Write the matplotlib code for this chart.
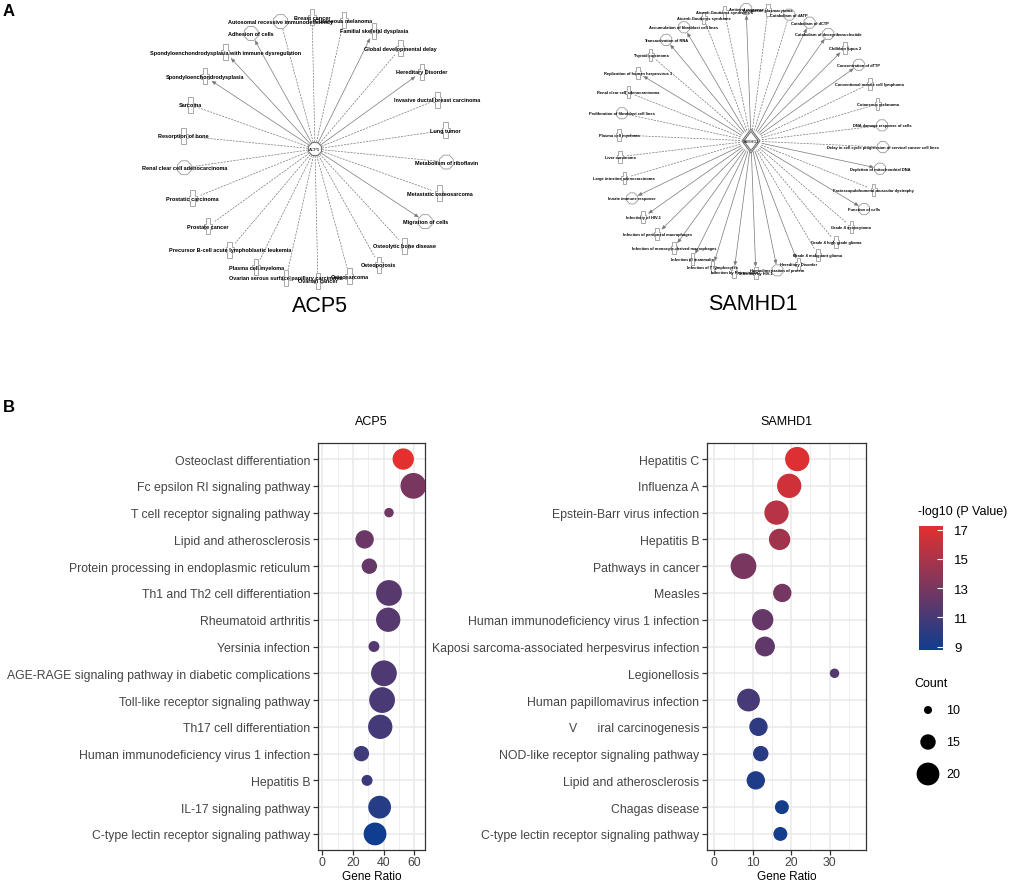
import numpy as np
import matplotlib
matplotlib.use("Agg")
import matplotlib.pyplot as plt
from matplotlib.colors import LinearSegmentedColormap, Normalize
from matplotlib.cm import ScalarMappable
from matplotlib.patches import Polygon, RegularPolygon

plt.rcParams['font.family'] = ['Liberation Sans', 'DejaVu Sans']

# ---------------- panel A: IPA networks ----------------
acp5_nodes = ["Adhesion of cells", "Autosomal recessive immunodeficiency", "Breast cancer",
              "Cutaneous melanoma", "Familial skeletal dysplasia", "Global developmental delay",
              "Hereditary Disorder", "Invasive ductal breast carcinoma", "Lung tumor",
              "Metabolism of riboflavin", "Metastatic osteosarcoma", "Migration of cells",
              "Osteolytic bone disease", "Osteoporosis", "Osteosarcoma", "Ovarian cancer",
              "Ovarian serous surface papillary carcinoma", "Plasma cell myeloma",
              "Precursor B-cell acute lymphoblastic leukemia", "Prostate cancer",
              "Prostatic carcinoma", "Renal clear cell adenocarcinoma", "Resorption of bone",
              "Sarcoma", "Spondyloenchondrodysplasia",
              "Spondyloenchondrodysplasia with immune dysregulation"]
acp5_kinds = "ffdddddddfdfdddddddddfdddd"
acp5_arrows = [1, 0, 0, 0, 1, 0, 1, 0, 0, 0, 0, 1, 0, 0, 0, 0, 0, 0, 0, 0, 0, 0, 0, 0, 1, 1]

samhd1_nodes = ["Accumulation of fibroblast cell lines", "Aicardi-Goutieres syndrome",
                "Aicardi-Goutieres syndrome 1", "Antiviral response", "Anaplastic plasmacytoma",
                "Catabolism of dATP", "Catabolism of dCTP", "Catabolism of deoxyribonucleotide",
                "Chilblain lupus 2", "Concentration of dTTP", "Conventional mantle cell lymphoma",
                "Cutaneous melanoma", "DNA damage response of cells",
                "Delay in cell cycle progression of cervical cancer cell lines",
                "Depletion of mitochondrial DNA", "Facioscapulohumeral muscular dystrophy",
                "Function of cells", "Grade 4 astrocytoma", "Grade 4 high grade glioma",
                "Grade 4 malignant glioma", "Hereditary Disorder", "Homodimerization of protein",
                "Infection by HIV-1", "Infection by Retroviridae", "Infection of T lymphocytes",
                "Infection of mammalia", "Infection of monocyte-derived macrophages",
                "Infection of peritoneal macrophages", "Infectivity of HIV-1",
                "Innate immune response", "Large intestine adenocarcinoma", "Liver carcinoma",
                "Plasma cell myeloma", "Proliferation of fibroblast cell lines",
                "Renal clear cell adenocarcinoma", "Replication of human herpesvirus 1",
                "Thyroid carcinoma", "Transactivation of RNA"]
samhd1_kinds = "fddfdfffdfddfffdfddddfdddddddfdddfdddf"
samhd1_arrows = [1, 0, 0, 1, 0, 0, 1, 1, 1, 1, 0, 0, 0, 0, 1, 0, 1, 0, 0, 0, 1, 1,
                 1, 1, 1, 1, 1, 1, 1, 1, 0, 0, 0, 0, 0, 1, 0, 1]

# ---------------- panel B: KEGG dot plots ----------------
acp5_terms = ["Osteoclast differentiation", "Fc epsilon RI signaling pathway",
              "T cell receptor signaling pathway", "Lipid and atherosclerosis",
              "Protein processing in endoplasmic reticulum", "Th1 and Th2 cell differentiation",
              "Rheumatoid arthritis", "Yersinia infection",
              "AGE-RAGE signaling pathway in diabetic complications",
              "Toll-like receptor signaling pathway", "Th17 cell differentiation",
              "Human immunodeficiency virus 1 infection", "Hepatitis B",
              "IL-17 signaling pathway", "C-type lectin receptor signaling pathway"]
acp5_ratio = [52.8, 59.4, 43.5, 27.6, 30.7, 43.5, 43.0, 33.7, 40.2, 39.0, 37.8, 25.5, 29.2, 37.4, 34.4]
acp5_count = [19, 22, 11, 17, 15, 22, 21, 12, 22, 22, 21, 15, 12, 20, 20]
acp5_logp = [17.25, 13.0, 12.6, 12.4, 12.2, 11.7, 11.6, 11.5, 11.3, 11.1, 10.9, 10.7, 10.5, 9.7, 8.77]

samhd1_terms = ["Hepatitis C", "Influenza A", "Epstein-Barr virus infection", "Hepatitis B",
                "Pathways in cancer", "Measles", "Human immunodeficiency virus 1 infection",
                "Kaposi sarcoma-associated herpesvirus infection", "Legionellosis",
                "Human papillomavirus infection", "V      iral carcinogenesis",
                "NOD-like receptor signaling pathway", "Lipid and atherosclerosis",
                "Chagas disease", "C-type lectin receptor signaling pathway"]
samhd1_ratio = [21.6, 19.5, 16.2, 17.0, 7.6, 17.7, 12.6, 13.2, 31.3, 8.9, 11.5, 12.1, 10.8, 17.6, 17.2]
samhd1_count = [21, 21, 21, 19, 22, 17, 19, 18, 11, 20, 17, 15, 17, 14, 14]
samhd1_logp = [17.0, 16.4, 15.5, 14.6, 13.0, 12.8, 12.2, 12.0, 11.5, 11.0, 10.0, 9.8, 9.4, 9.1, 9.0]

legend_counts = [10, 15, 20]
cbar_ticks = [9, 11, 13, 15, 17]

W, H = 1027, 887
fig = plt.figure(figsize=(W / 100, H / 100), dpi=100)


def frac(x0, y0, x1, y1):
    # pixel box (top-left origin) -> figure fraction rect
    return [x0 / W, 1 - y1 / H, (x1 - x0) / W, (y1 - y0) / H]


def dot_size(c):
    r_px = 3.3 + (np.asarray(c, dtype=float) - 10) * 0.74
    return (2 * r_px * 72 / 100) ** 2


cmap = LinearSegmentedColormap.from_list("pv", ["#0f3d8f", "#e3302f"])
norm = Normalize(vmin=min(acp5_logp + samhd1_logp), vmax=max(acp5_logp + samhd1_logp))

# whole-figure canvas in pixel coordinates for the networks and the size legend
canvas = fig.add_axes([0, 0, 1, 1])
canvas.set_xlim(0, W)
canvas.set_ylim(H, 0)
canvas.axis("off")

edge_col = "#777777"
node_col = "#9a9a9a"


def draw_network(ax, cx, cy, rad, nodes, kinds, arrows, top_i, hub, fs, cw, ch, ct, cr, weight):
    n = len(nodes)
    for i, (name, kind, arr) in enumerate(zip(nodes, kinds, arrows)):
        a = np.deg2rad(90 - (i - top_i) * 360 / n)
        ux, uy = np.cos(a), -np.sin(a)
        x, y = cx + rad * ux, cy + rad * uy
        stop = rad - (cr if kind == "f" else ch / 2) - 0.5
        x0, y0 = cx + hub * ux, cy + hub * uy
        x1, y1 = cx + stop * ux, cy + stop * uy
        if arr:
            ax.plot([x0, x1 - 3 * ux], [y0, y1 - 3 * uy], color=edge_col, lw=0.5, zorder=1)
            px, py = -uy, ux
            tri = [(x1, y1), (x1 - 4 * ux + 1.6 * px, y1 - 4 * uy + 1.6 * py),
                   (x1 - 4 * ux - 1.6 * px, y1 - 4 * uy - 1.6 * py)]
            ax.add_patch(Polygon(tri, closed=True, fc=edge_col, ec=edge_col, lw=0.3, zorder=1))
        else:
            ax.plot([x0, x1], [y0, y1], color=edge_col, lw=0.5, dashes=(3, 1.6), zorder=1)
        if kind == "f":
            ax.add_patch(RegularPolygon((x, y), 8, radius=cr, orientation=np.pi / 8,
                                        fc="white", ec=node_col, lw=0.6, zorder=2))
        else:
            pts = [(x - ct / 2, y - ch / 2), (x + ct / 2, y - ch / 2), (x + ct / 2, y - ct / 2),
                   (x + cw / 2, y - ct / 2), (x + cw / 2, y + ct / 2), (x + ct / 2, y + ct / 2),
                   (x + ct / 2, y + ch / 2), (x - ct / 2, y + ch / 2), (x - ct / 2, y + ct / 2),
                   (x - cw / 2, y + ct / 2), (x - cw / 2, y - ct / 2), (x - ct / 2, y - ct / 2)]
            ax.add_patch(Polygon(pts, closed=True, fc="white", ec=node_col, lw=0.6, zorder=2))
        ax.text(x, y, name, fontsize=fs, ha="center", va="center", color="black",
                fontweight=weight, zorder=3)


# ACP5 network
draw_network(canvas, 315, 150, 132, acp5_nodes, acp5_kinds, acp5_arrows, 2.09,
             7, 4.0, 8, 16, 4.5, 7.5, "bold")
canvas.add_patch(RegularPolygon((315, 150), 8, radius=7, orientation=np.pi / 8,
                                fc="white", ec="#777777", lw=0.8, zorder=4))
canvas.text(315, 150, "ACP5", fontsize=3.2, ha="center", va="center", zorder=5)
canvas.text(320, 307, "ACP5", fontsize=15.5, ha="center", va="center")

# SAMHD1 network
draw_network(canvas, 751, 142, 132, samhd1_nodes, samhd1_kinds, samhd1_arrows, 3.22,
             11, 2.85, 6, 12, 3.5, 6, "bold")
for k, s in [(0, 1.0), (1, 0.8)]:
    dx, dy = 9 * s, 12 * s
    canvas.add_patch(Polygon([(751, 142 - dy), (751 + dx, 142), (751, 142 + dy), (751 - dx, 142)],
                             closed=True, fc="white" if k == 0 else "none", ec="#777777",
                             lw=0.8, zorder=4 + k))
canvas.text(751, 142, "SAMHD1", fontsize=2.8, ha="center", va="center", zorder=6)
canvas.text(753, 305, "SAMHD1", fontsize=15.5, ha="center", va="center")

fig.text(9 / W, 1 - 11 / H, "A", fontsize=12, fontweight="bold", ha="center", va="center")
fig.text(9 / W, 1 - 408 / H, "B", fontsize=12, fontweight="bold", ha="center", va="center")


def dot_panel(box, title, terms, ratio, count, logp, xlim, major, minor):
    ax = fig.add_axes(frac(*box))
    ypos = np.arange(len(terms))
    ax.set_xlim(*xlim)
    ax.set_ylim(len(terms) - 0.4, -0.6)
    ax.set_xticks(major)
    ax.set_xticks(minor, minor=True)
    ax.set_yticks(ypos)
    ax.set_yticklabels(terms)
    ax.grid(True, which="major", color="#ebebeb", lw=1.2)
    ax.grid(True, which="minor", axis="x", color="#ebebeb", lw=0.6)
    ax.set_axisbelow(True)
    ax.scatter(ratio, ypos, s=dot_size(count), c=logp, cmap=cmap, norm=norm,
               edgecolors="face", zorder=3)
    ax.tick_params(which="major", length=3.5, width=0.9, color="#333333",
                   labelsize=8.8, labelcolor="#444444", pad=2)
    ax.tick_params(axis="x", pad=1)
    ax.tick_params(which="minor", length=0)
    for sp in ax.spines.values():
        sp.set_color("#333333")
        sp.set_linewidth(0.9)
    ax.text(0.5, 1 + 22 / (box[3] - box[1]), title, transform=ax.transAxes,
            ha="center", va="center", fontsize=9)
    ax.text(0.5, -26 / (box[3] - box[1]), "Gene Ratio", transform=ax.transAxes,
            ha="center", va="center", fontsize=8.5)
    return ax


dot_panel((318, 444, 425, 851), "ACP5", acp5_terms, acp5_ratio, acp5_count, acp5_logp,
          (-2.8, 67), [0, 20, 40, 60], [10, 30, 50])
dot_panel((707, 444, 866, 851), "SAMHD1", samhd1_terms, samhd1_ratio, samhd1_count, samhd1_logp,
          (-1.9, 39.5), [0, 10, 20, 30], [5, 15, 25, 35])

# colour bar
cax = fig.add_axes(frac(919, 527, 943, 651))
cb = fig.colorbar(ScalarMappable(norm=norm, cmap=cmap), cax=cax, ticks=cbar_ticks)
cb.outline.set_visible(False)
cax.tick_params(direction="in", color="white", length=4, width=0.8, labelsize=9.5, pad=8)
fig.text(918 / W, 1 - 512 / H, "-log10 (P Value)", fontsize=9, ha="left", va="center")

# size legend
fig.text(914 / W, 1 - 684 / H, "Count", fontsize=9, ha="left", va="center")
leg_y = [711, 743, 775]
canvas.scatter([928] * len(legend_counts), leg_y, s=dot_size(legend_counts), color="black", zorder=3)
for c, yy in zip(legend_counts, leg_y):
    canvas.text(946, yy, str(c), fontsize=9, ha="left", va="center")

fig.savefig("out.png", dpi=100)
